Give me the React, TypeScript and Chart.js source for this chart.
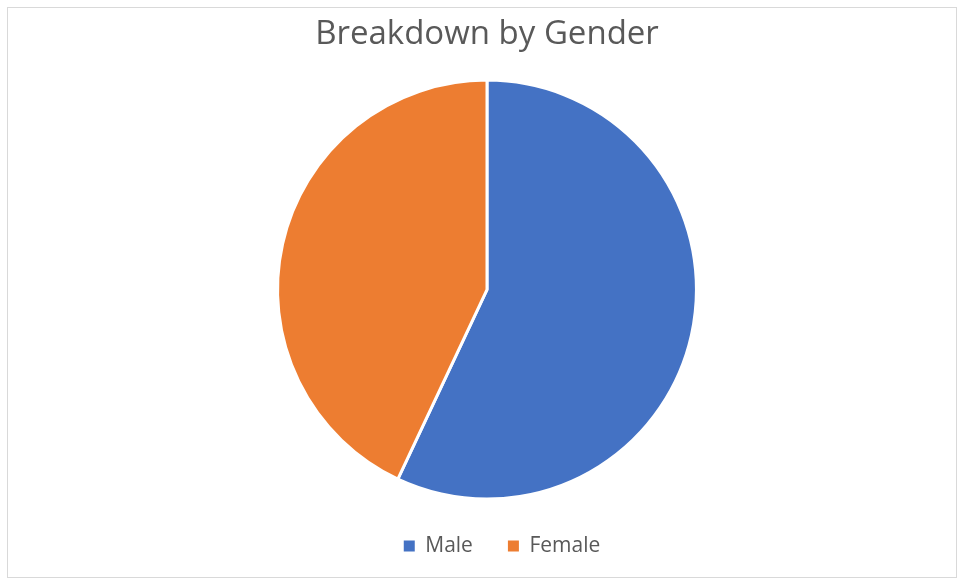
import React, { useEffect, useRef } from "react";
import { Chart, registerables } from "chart.js";

Chart.register(...registerables);

const titleText = "Breakdown by Gender";
const categories = ["Male", "Female"];
const values = [57, 43];
const colors = ["#4472C4", "#ED7D31"];

const legendShift = {
  id: "legendShift",
  afterLayout(chart: any) {
    if (chart.legend) {
      chart.legend.left += 15;
      chart.legend.right += 15;
    }
  },
};

export default function App() {
  const ref = useRef<HTMLCanvasElement | null>(null);
  useEffect(() => {
    document.body.style.margin = "0";
    const ctx = ref.current!;
    const baseGen = (Chart as any).overrides.pie.plugins.legend.labels.generateLabels;
    const chart = new Chart(ctx, {
      type: "pie",
      data: {
        labels: categories,
        datasets: [
          {
            data: values,
            backgroundColor: colors,
            borderColor: "#ffffff",
            borderWidth: 3,
          },
        ],
      },
      plugins: [legendShift],
      options: {
        animation: false,
        responsive: false,
        maintainAspectRatio: false,
        layout: { padding: { top: 0, bottom: 12.5, left: 17, right: 0 } },
        plugins: {
          title: {
            display: true,
            text: titleText,
            color: "#595959",
            font: { family: "'Open Sans'", size: 33, weight: "normal" },
            padding: { top: 15, bottom: 24 },
          },
          legend: {
            position: "bottom",
            labels: {
              color: "#595959",
              font: { family: "'Open Sans'", size: 21 },
              boxWidth: 11,
              boxHeight: 11,
              padding: 35,
              generateLabels: (c: any) =>
                baseGen(c).map((l: any) => ({ ...l, lineWidth: 0, strokeStyle: "transparent" })),
            },
          },
          tooltip: { enabled: false },
        },
      },
    });
    return () => chart.destroy();
  }, []);
  return (
    <div style={{ position: "absolute", left: 0, top: 0, width: 957, height: 579, background: "#fff" }}>
      <div
        style={{
          position: "absolute",
          left: 7,
          top: 7,
          width: 948,
          height: 569,
          border: "1px solid #d9d9d9",
        }}
      />
      <canvas ref={ref} width={957} height={579} style={{ position: "absolute", left: 0, top: 0 }} />
    </div>
  );
}
